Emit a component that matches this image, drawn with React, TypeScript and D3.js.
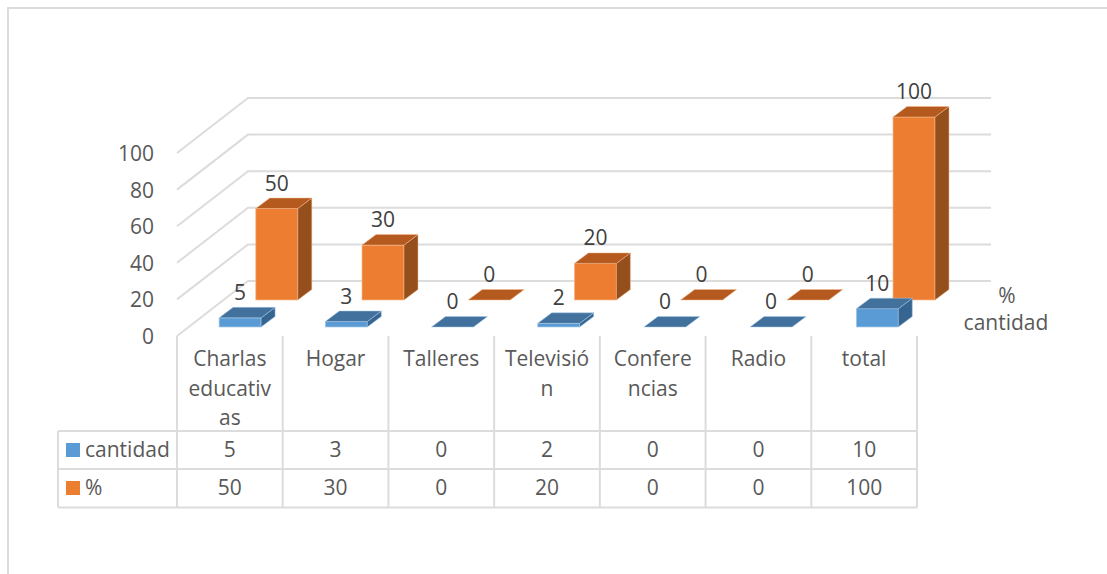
import React from "react";
import * as d3 from "d3";

const categories = [["Charlas", "educativ", "as"], ["Hogar"], ["Talleres"], ["Televisió", "n"], ["Confere", "ncias"], ["Radio"], ["total"]];
const cantidad = [5, 3, 0, 2, 0, 0, 10];
const porcentaje = [50, 30, 0, 20, 0, 0, 100];
const yTicks = [0, 20, 40, 60, 80, 100];

const FONT = "'Open Sans', sans-serif";
const FS = 21;
const TICK = "#595959";
const LABEL = "#404040";
const GRID = "#dcdcdc";

const idx = categories.map((_, i) => i);
const x = d3.scaleBand<number>().domain(idx).range([177, 917]);
const xBars = d3.scaleBand<number>().domain(idx).range([187, 187 + 7 * 106.2]);
const y = d3.scaleLinear().domain([0, 100]).range([336, 153]);
const BACK_X = 71, BACK_Y = -55, GRID_RIGHT = 991;

type Pal = { front: string; top: string; side: string; edge: string };
const BLUE: Pal = { front: "#5b9bd5", top: "#41719c", side: "#376592", edge: "#a9cbe9" };
const ORANGE: Pal = { front: "#ed7d31", top: "#b55a1e", side: "#954f1c", edge: "#f5b98f" };

const BAR_W = 42, DX = 14, DY = -10.5;

function Bar({ cx, base, value, pal }: { cx: number; base: number; value: number; pal: Pal }) {
  const h = y(0) - y(value);
  const x0 = cx - BAR_W / 2, x1 = cx + BAR_W / 2;
  const top = base - h;
  const pts = (p: number[][]) => p.map((q) => q.join(",")).join(" ");
  return (
    <g>
      {h > 0 && <rect x={x0} y={top} width={BAR_W} height={h} fill={pal.front} stroke={pal.edge} strokeWidth={0.7} />}
      {h > 0 && <polygon points={pts([[x1, base], [x1 + DX, base + DY], [x1 + DX, top + DY], [x1, top]])} fill={pal.side} stroke={pal.edge} strokeWidth={0.5} />}
      <polygon points={pts([[x0, top], [x1, top], [x1 + DX, top + DY], [x0 + DX, top + DY]])} fill={pal.top} stroke={pal.edge} strokeWidth={0.5} />
      <text x={cx} y={top - 26} textAnchor="middle" dominantBaseline="central" fontSize={FS} fill={LABEL}>{value}</text>
    </g>
  );
}

export default function App() {
  const bw = x.bandwidth();
  const blueCx = (i: number) => (xBars(i) as number) + xBars.bandwidth() / 2;
  const orangeCx = (i: number) => blueCx(i) + 36.7;
  return (
    <svg width={1107} height={574} style={{ position: "absolute", left: 0, top: 0, background: "#fff" }} fontFamily={FONT}>
      <path d="M8,574V8H1107" fill="none" stroke={GRID} strokeWidth={2} />
      {yTicks.map((t) => (
        <g key={t}>
          <polyline points={`${177},${y(t)} ${177 + BACK_X},${y(t) + BACK_Y} ${GRID_RIGHT},${y(t) + BACK_Y}`} fill="none" stroke={GRID} strokeWidth={2} />
          <text x={154} y={y(t)} textAnchor="end" dominantBaseline="central" fontSize={FS} fill={TICK}>{t}</text>
        </g>
      ))}
      {idx.map((i) => <Bar key={i} cx={orangeCx(i)} base={300} value={porcentaje[i]} pal={ORANGE} />)}
      {idx.map((i) => <Bar key={i} cx={blueCx(i)} base={327} value={cantidad[i]} pal={BLUE} />)}
      <text x={1007} y={295} textAnchor="middle" dominantBaseline="central" fontSize={FS} fill={TICK}>%</text>
      <text x={1006} y={322} textAnchor="middle" dominantBaseline="central" fontSize={FS} fill={TICK}>cantidad</text>
      {[...idx, idx.length].map((i) => {
        const px = i < idx.length ? (x(i) as number) : 917;
        return <line key={i} x1={px} x2={px} y1={336} y2={507.5} stroke={GRID} strokeWidth={2} />;
      })}
      {[431, 469, 507.5].map((py) => <line key={py} x1={58} x2={917} y1={py} y2={py} stroke={GRID} strokeWidth={2} />)}
      <line x1={58} x2={58} y1={431} y2={507.5} stroke={GRID} strokeWidth={2} />
      {categories.map((lines, i) => lines.map((l, j) => (
        <text key={j} x={(x(i) as number) + bw / 2} y={358 + j * 29.7} textAnchor="middle" dominantBaseline="central" fontSize={FS} fill={TICK}>{l}</text>
      )))}
      {idx.map((i) => (
        <g key={i}>
          <text x={(x(i) as number) + bw / 2} y={448.5} textAnchor="middle" dominantBaseline="central" fontSize={FS} fill={TICK}>{cantidad[i]}</text>
          <text x={(x(i) as number) + bw / 2} y={486.5} textAnchor="middle" dominantBaseline="central" fontSize={FS} fill={TICK}>{porcentaje[i]}</text>
        </g>
      ))}
      <rect x={66} y={443} width={14} height={14} fill={BLUE.front} />
      <rect x={66} y={481} width={14} height={14} fill={ORANGE.front} />
      <text x={85} y={448.5} dominantBaseline="central" fontSize={FS} fill={TICK}>cantidad</text>
      <text x={85} y={486.5} dominantBaseline="central" fontSize={FS} fill={TICK}>%</text>
    </svg>
  );
}
